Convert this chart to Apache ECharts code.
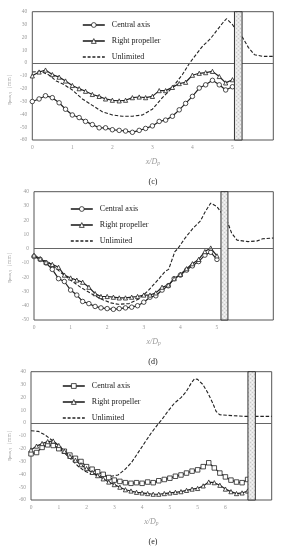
<!DOCTYPE html>
<html><head><meta charset="utf-8">
<script src="https://cdn.jsdelivr.net/npm/echarts@6/dist/echarts.min.js"></script>
<style>html,body{margin:0;padding:0;background:#fff}#c{width:286px;height:550px}</style>
</head><body><div id="c"></div>
<script>
// ---------- DATA ----------
const legendNames = ['Central axis', 'Right propeller', 'Unlimited'];
const yLabelText = '{a|η}{b|max,q}{a|（mm）}';

// panel (c)
const xLabelsC = ['0','1','2','3','4','5'];
const xC = [0,0.17,0.33,0.5,0.67,0.83,1,1.17,1.33,1.5,1.67,1.83,2,2.17,2.33,2.5,2.67,2.83,3,3.17,3.33,3.5,3.67,3.83,4,4.17,4.33,4.5,4.67,4.83,5];
const centralC = [-30,-28,-25.5,-27,-31,-36,-40.5,-42.5,-45.5,-48,-50.5,-50.5,-52,-52.5,-53,-54,-52.5,-51,-49,-45.5,-44.5,-41.5,-36.5,-31.5,-26,-19.5,-17,-13.5,-17,-21,-18.5];
const rightC = [-10,-7,-5.5,-9,-11,-14,-17.5,-20,-22,-24.5,-26,-28,-29,-29.5,-29,-27,-26.5,-27,-26,-21.5,-21.5,-19,-16,-15,-9.5,-8,-7.5,-6.5,-10.5,-15.5,-13];
const xUnlC = [0,0.2,0.4,0.6,0.8,1.0,1.25,1.5,1.75,2.0,2.25,2.5,2.75,3.0,3.25,3.5,3.75,3.93,4.1,4.25,4.45,4.6,4.75,4.85,5.0,5.1,5.25,5.4,5.55,5.75,6.02];
const unlimitedC = [-7,-6.5,-9,-14,-17,-21,-28,-33,-38,-40.5,-41.5,-41.5,-40.5,-36,-27,-19,-9,0,7,13,19,25,31,34.5,30,25,20,12,6.5,5.2,5.2];
const barC = [5.05, 5.24];

// panel (d)
const xLabelsD = ['0','1','2','3','4','5'];
const xD = [0,0.17,0.33,0.5,0.67,0.83,1,1.17,1.33,1.5,1.67,1.83,2,2.17,2.33,2.5,2.67,2.83,3,3.17,3.33,3.5,3.67,3.83,4,4.17,4.33,4.5,4.67,4.83,5];
const centralD = [-5.5,-7.5,-10,-14.5,-21,-23,-29,-32.5,-37,-38.5,-40.5,-41.5,-42,-42.5,-42,-41.5,-41,-40,-37.5,-34,-33,-29,-26,-21,-18.5,-15,-12,-9,-4.5,-2.5,-7.5];
const rightD = [-4.5,-7,-9.5,-11,-13,-18.5,-20.5,-22,-23.5,-27,-31.5,-33.5,-33.5,-34,-34.5,-34.5,-34,-33.5,-32.5,-32.5,-31,-27,-25.5,-21,-18,-14,-10.5,-7.5,-2,0.5,-5];
const xUnlD = [0,0.4,0.75,1.05,1.3,1.6,1.85,2.1,2.3,2.6,2.85,3.1,3.4,3.58,3.68,3.85,3.93,4.13,4.35,4.55,4.68,4.83,5.0,5.1,5.3,5.4,5.55,5.85,6.1,6.25,6.54];
const unlimitedD = [-5.5,-9.5,-17,-23,-27.5,-32,-35.5,-38,-39,-38.5,-35.5,-30,-21.5,-16,-14.5,-2,0,7.5,14.5,19.5,26,32,29.5,26,18,11,6,5,5.5,7,7.5];
const barD = [5.11, 5.30];

// panel (e)
const xLabelsE = ['0','1','2','3','4','5','5','6'];
const xE = [0,0.18,0.36,0.54,0.72,0.9,1.08,1.26,1.44,1.62,1.8,1.98,2.16,2.34,2.52,2.7,2.88,3.06,3.24,3.42,3.6,3.78,3.96,4.14,4.32,4.5,4.68,4.86,5.04,5.22,5.4,5.58,5.76,5.94,6.12,6.3,6.48,6.66,6.84,7.02];
const centralE = [-24,-23,-19,-17,-17.5,-20,-22,-25,-27.5,-30,-34,-36,-38,-40,-42.5,-44.5,-45.5,-46.5,-47,-46.5,-47,-46,-46.5,-45,-44,-43,-41.5,-40.5,-39,-37.5,-36.5,-34,-31,-35,-39,-42,-44.5,-46,-46.5,-44];
const rightE = [-21,-18,-16,-14.5,-14,-17.5,-22,-26,-29,-32.5,-35.5,-38.5,-41,-43.5,-46,-48,-50,-52,-53,-54,-54.5,-55,-55.5,-55.5,-55,-54.5,-54,-53.5,-52.5,-51.5,-51,-49,-46,-46.5,-48.5,-51.5,-53.5,-55,-54.5,-53];
const xUnlE = [0,0.23,0.44,0.66,0.87,1.09,1.31,1.52,1.74,1.95,2.17,2.38,2.6,2.82,3.03,3.25,3.46,3.68,3.89,4.11,4.22,4.43,4.65,4.87,5.03,5.19,5.3,5.4,5.57,5.73,5.89,6.0,6.11,6.38,6.92,7.8];
const unlimitedE = [-6,-6.5,-9,-13,-18,-23.5,-28.5,-33.5,-37.5,-39.5,-41,-41.5,-41.5,-40.5,-36.5,-31,-23.5,-15.5,-8,-1,2,9,15.5,20,24.5,31,34.5,34,30,23.5,15.5,9,6.5,6,5.2,5.2];
const barE = [7.03, 7.27];

// ---------- LAYOUT / STYLE ----------
const FONT = '"Liberation Serif","Times New Roman",serif';
const INK = '#222';
const GRAY = '#9a9a9a';
const zip = (xs, ys) => xs.map((x, i) => [x, ys[i]]);

// speckled fill for the obstacle bar
const pat = document.createElement('canvas');
pat.width = 4; pat.height = 4;
(function () {
  const g = pat.getContext('2d');
  g.fillStyle = '#e6e6e6'; g.fillRect(0, 0, 4, 4);
  g.fillStyle = '#c9c9c9'; g.fillRect(0, 0, 1, 1); g.fillRect(2, 2, 1, 1);
  g.fillStyle = '#f5f5f5'; g.fillRect(2, 0, 1, 1); g.fillRect(0, 2, 1, 1);
})();

const panels = [
  {key:'c', grid:{left:32.3, top:11.7, width:241, height:128.3}, xMax:6.02, xInt:1, xLabels:xLabelsC,
   yMin:-60, yMax:40, bar:barC, x:xC, central:centralC, right:rightC, xu:xUnlC, unl:unlimitedC,
   csym:'circle', csize:4.5, legend:{left:77, top:16}, caption:'(c)', capY:182, nameY:88},
  {key:'d', grid:{left:34, top:191.7, width:239.3, height:128.3}, xMax:6.54, xInt:1, xLabels:xLabelsD,
   yMin:-50, yMax:40, bar:barD, x:xD, central:centralD, right:rightD, xu:xUnlD, unl:unlimitedD,
   csym:'circle', csize:4.5, legend:{left:65, top:200}, caption:'(d)', capY:362, nameY:266},
  {key:'e', grid:{left:31, top:371.7, width:240.7, height:128.3}, xMax:7.8, xInt:0.9, xLabels:xLabelsE,
   yMin:-60, yMax:40, bar:barE, x:xE, central:centralE, right:rightE, xu:xUnlE, unl:unlimitedE,
   csym:'rect', csize:4.5, legend:{left:57, top:377}, caption:'(e)', capY:542, nameY:444}
];

const option = {animation:false, backgroundColor:'#fff', grid:[], xAxis:[], yAxis:[], series:[], legend:[], graphic:[]};
const markStyle = {color:'#fff', borderColor:INK, borderWidth:0.8};

panels.forEach((p, k) => {
  option.grid.push(Object.assign({show:true, borderColor:'#555', borderWidth:1, backgroundColor:'transparent'}, p.grid));
  option.xAxis.push({
    type:'value', gridIndex:k, min:0, max:p.xMax, interval:p.xInt,
    axisLine:{show:false}, axisTick:{show:false}, splitLine:{show:false},
    axisLabel:{fontFamily:FONT, fontSize:5.5, color:GRAY, margin:5, showMaxLabel:true,
      formatter:(v, i) => (p.xLabels[i] !== undefined ? p.xLabels[i] : '')},
    name:'{i|x/D}{s|p}', nameLocation:'middle', nameGap:17,
    nameTextStyle:{rich:{i:{fontFamily:FONT, fontStyle:'italic', fontSize:8, color:GRAY},
                         s:{fontFamily:FONT, fontStyle:'italic', fontSize:5.5, color:GRAY, verticalAlign:'bottom', padding:[4,0,0,0]}}}
  });
  option.yAxis.push({
    type:'value', gridIndex:k, min:p.yMin, max:p.yMax, interval:10,
    axisLine:{show:false}, axisTick:{show:false}, splitLine:{show:false},
    axisLabel:{fontFamily:FONT, fontSize:5.5, color:GRAY, margin:5}
  });
  const n = legendNames.map(s => p.key + ':' + s);
  option.series.push({
    name:n[0], type:'line', xAxisIndex:k, yAxisIndex:k, data:zip(p.x, p.central), z:3,
    symbol:p.csym, symbolSize:p.csize, showAllSymbol:true,
    lineStyle:{color:INK, width:1.2}, itemStyle:markStyle
  });
  option.series.push({
    name:n[1], type:'line', xAxisIndex:k, yAxisIndex:k, data:zip(p.x, p.right), z:3,
    symbol:'triangle', symbolSize:4.2, showAllSymbol:true,
    lineStyle:{color:INK, width:1.2}, itemStyle:markStyle
  });
  option.series.push({
    name:n[2], type:'line', xAxisIndex:k, yAxisIndex:k, data:zip(p.xu, p.unl), z:2,
    symbol:'none', lineStyle:{color:INK, width:1.1, type:[3.5,1.8]}, itemStyle:{color:INK},
    markLine:{silent:true, symbol:'none', label:{show:false},
      lineStyle:{color:'#666', type:'solid', width:1}, data:[{yAxis:0}]}
  });
  option.series.push({
    type:'custom', xAxisIndex:k, yAxisIndex:k, z:6, silent:true, clip:false,
    data:[p.bar], encode:{x:[0,1]},
    renderItem:(params, api) => {
      const a = api.coord([api.value(0), p.yMax]);
      const b = api.coord([api.value(1), p.yMin]);
      return {type:'rect', shape:{x:a[0], y:a[1], width:b[0]-a[0], height:b[1]-a[1]},
              style:{fill:{image:pat, repeat:'repeat'}, stroke:'#333', lineWidth:1}};
    }
  });
  option.legend.push({
    data:[
      {name:n[0], itemStyle:{color:'#fff', borderColor:INK, borderWidth:0.8}, lineStyle:{color:INK, width:1.6}},
      {name:n[1], itemStyle:{color:'#fff', borderColor:INK, borderWidth:0.8}, lineStyle:{color:INK, width:1.6}},
      {name:n[2], itemStyle:{opacity:0}, lineStyle:{color:INK, width:1.3, type:[3,1.8]}}
    ],
    orient:'vertical', left:p.legend.left, top:p.legend.top,
    itemWidth:22, itemHeight:6, itemGap:8, selectedMode:false,
    formatter:(name) => name.slice(2),
    textStyle:{fontFamily:FONT, fontSize:8, color:INK, padding:[0,0,0,2]}
  });
  option.graphic.push({
    type:'text', x:10, y:p.nameY, rotation:Math.PI/2, silent:true,
    style:{text:yLabelText, align:'center', verticalAlign:'middle',
      rich:{a:{fontFamily:FONT, fontSize:5.5, fill:GRAY}, b:{fontFamily:FONT, fontSize:4, fill:GRAY}}}
  });
  option.graphic.push({
    type:'text', x:153, y:p.capY, silent:true,
    style:{text:p.caption, align:'center', verticalAlign:'middle', font:'8px ' + FONT, fill:INK}
  });
});

const chart = echarts.init(document.getElementById('c'), null, {renderer:'canvas'});
chart.setOption(option);
</script>
</body></html>
